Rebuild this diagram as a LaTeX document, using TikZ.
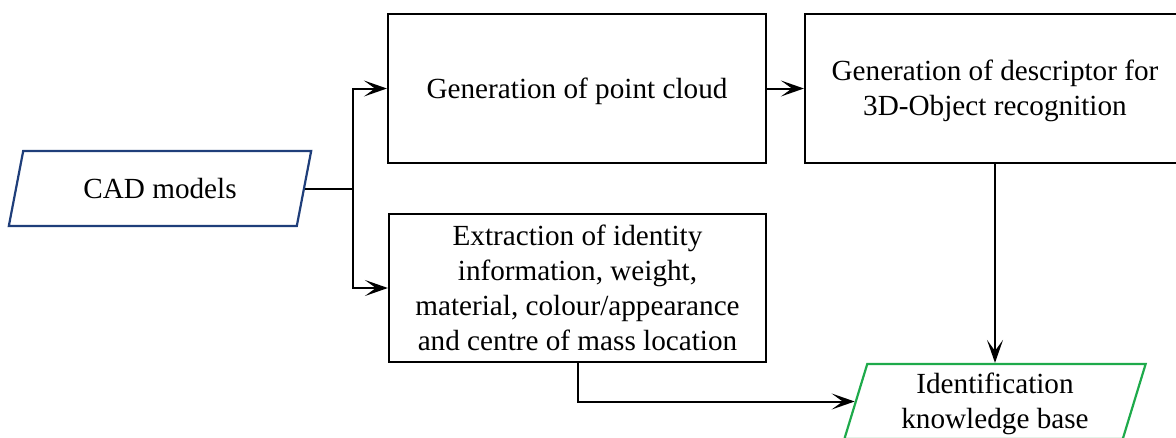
\documentclass[tikz,border=0pt]{standalone}
\usepackage{fontspec}
\setmainfont{Liberation Serif}
\usetikzlibrary{arrows.meta,shapes.geometric}
\definecolor{inputblue}{RGB}{31,62,122}
\definecolor{kbgreen}{RGB}{30,170,75}
% line box of the text face: ascent and descent
\newcommand\ls{\rule[-0.216em]{0pt}{1.107em}}
\tikzset{
  every node/.style={font=\fontsize{29.2}{35}\selectfont, align=center, inner sep=0pt},
  procbox/.style={draw=black, line width=2.2pt, rectangle},
  databox/.style={trapezium, trapezium left angle=76, trapezium right angle=104,
                  trapezium stretches=true, line width=2.2pt},
  arr/.style={draw=black, line width=2pt,
              -{Stealth[length=23pt,width=16pt,inset=11pt]}}
}
\begin{document}
\begin{tikzpicture}[x=1pt,y=-1pt]
\useasboundingbox (0,0) rectangle (1176,437);
\clip (0,0) rectangle (1176,437);

% input data
\node[databox, draw=inputblue, minimum width=303pt, minimum height=75pt] (cad) at (160,188.5) {\ls CAD models};

% processing steps
\node[procbox, minimum width=378pt, minimum height=149pt] (cloud) at (577,88.5) {\ls Generation of point cloud};
\node[procbox, minimum width=380pt, minimum height=149pt] (desc) at (995,88.5)
  {\ls Generation of descriptor for\\\ls 3D-Object recognition};
\node[procbox, minimum width=377pt, minimum height=148pt] (extract) at (577.5,288)
  {\ls Extraction of identity\\\ls information, weight,\\\ls material, colour/appearance\\\ls and centre of mass location};

% output
\node[databox, draw=kbgreen, minimum width=302pt, minimum height=75pt] (kb) at (995,401.5)
  {\ls Identification\\\ls knowledge base};

% connectors
\draw[arr] (cad.east) -- ++(48,0) |- (cloud.west);
\draw[arr] (cad.east) -- ++(48,0) |- (extract.west);
\draw[arr] (cloud.east) -- (desc.west);
\draw[arr] (desc.south) -- (desc.south |- kb.north);
\draw[arr] (extract.south) |- (kb.west);
\end{tikzpicture}
\end{document}
